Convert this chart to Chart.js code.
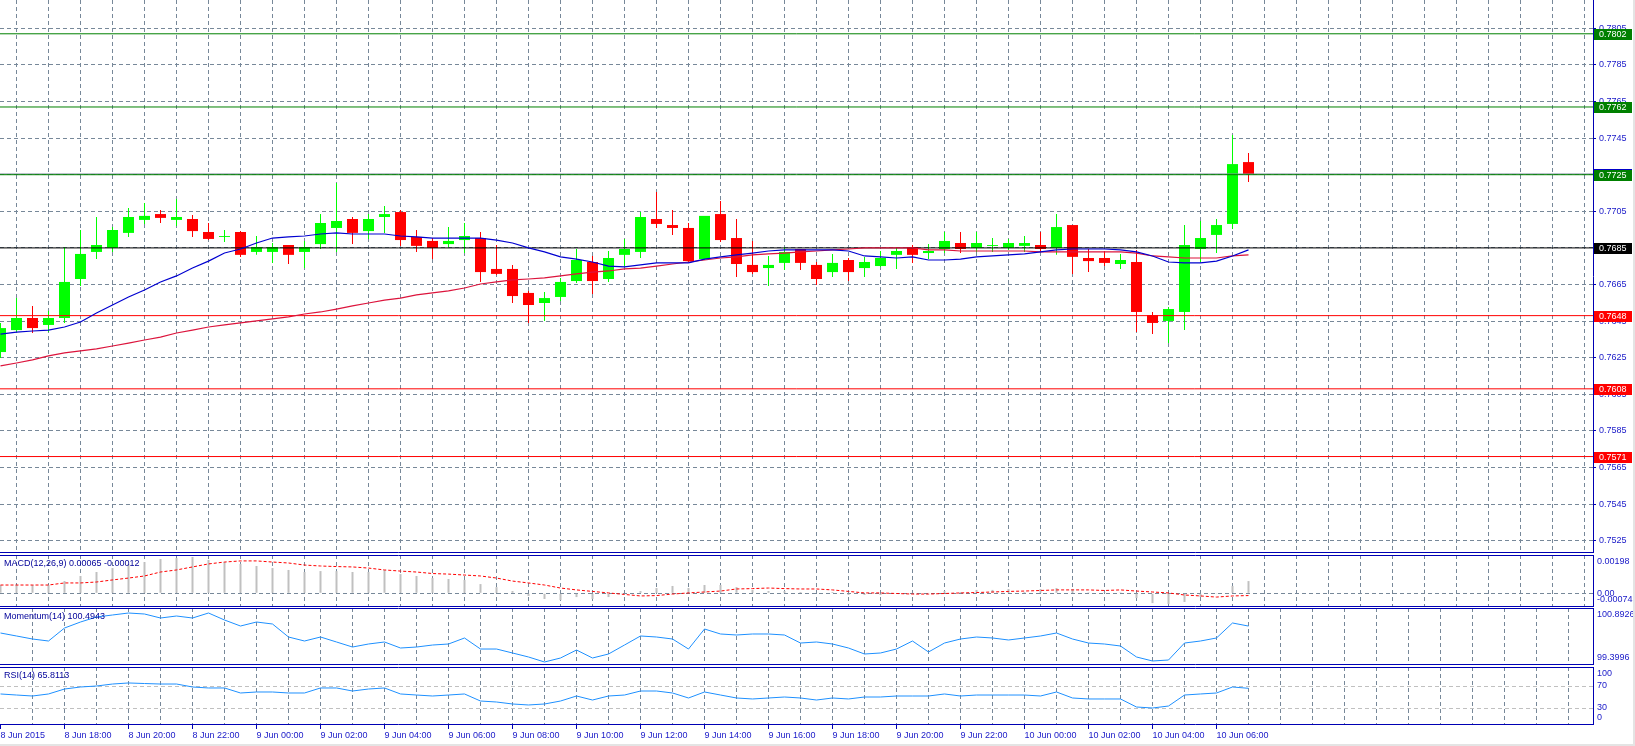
<!DOCTYPE html>
<html><head><meta charset="utf-8">
<script src="https://cdn.jsdelivr.net/npm/chart.js@4.4.1/dist/chart.umd.min.js"></script>
<style>
html,body{margin:0;padding:0;background:#fff;width:1635px;height:746px;overflow:hidden;}
canvas{position:absolute;left:0;}
#edgeR{position:absolute;left:1633px;top:0;width:2px;height:746px;background:#e4e4e4;}
#edgeB{position:absolute;left:0;top:744px;width:1635px;height:2px;background:#e4e4e4;}
</style></head><body>
<canvas id="cMain" width="1635" height="553" style="top:0px"></canvas>
<canvas id="cMacd" width="1635" height="52" style="top:555px"></canvas>
<canvas id="cMom" width="1635" height="57" style="top:608px"></canvas>
<canvas id="cRsi" width="1635" height="79" style="top:667px"></canvas>
<div id="edgeR"></div><div id="edgeB"></div>
<script>
// ---------------- DATA (AUDUSD M30, 8 Jun 16:00 -> 10 Jun 07:00) ----------------
const timeTickLabels = ["8 Jun 2015","8 Jun 18:00","8 Jun 20:00","8 Jun 22:00","9 Jun 00:00","9 Jun 02:00","9 Jun 04:00","9 Jun 06:00","9 Jun 08:00","9 Jun 10:00","9 Jun 12:00","9 Jun 14:00","9 Jun 16:00","9 Jun 18:00","9 Jun 20:00","9 Jun 22:00","10 Jun 00:00","10 Jun 02:00","10 Jun 04:00","10 Jun 06:00"];
const barsPerTimeLabel = 4;

const open = [0.76281,0.76401,0.76467,0.76429,0.76467,0.76680,0.76828,0.76850,0.76932,0.77003,0.77035,0.77003,0.77008,0.76937,0.76910,0.76937,0.76828,0.76828,0.76866,0.76828,0.76871,0.76959,0.77008,0.76942,0.77019,0.77046,0.76910,0.76888,0.76871,0.76893,0.76904,0.76735,0.76735,0.76604,0.76549,0.76582,0.76669,0.76773,0.76680,0.76812,0.76828,0.77008,0.76975,0.76959,0.76789,0.77035,0.76904,0.76757,0.76740,0.76768,0.76844,0.76757,0.76718,0.76784,0.76740,0.76751,0.76812,0.76855,0.76822,0.76844,0.76877,0.76850,0.76861,0.76850,0.76861,0.76866,0.76850,0.76975,0.76795,0.76795,0.76762,0.76773,0.76483,0.76451,0.76500,0.76844,0.76921,0.76981,0.77319];
const high = [0.76440,0.76576,0.76533,0.76505,0.76855,0.76948,0.77019,0.76964,0.77068,0.77096,0.77057,0.77117,0.77030,0.76986,0.76948,0.76942,0.76915,0.76877,0.76866,0.76888,0.77035,0.77205,0.77019,0.77035,0.77079,0.77057,0.76948,0.76904,0.76964,0.76986,0.76937,0.76866,0.76757,0.76615,0.76609,0.76686,0.76844,0.76806,0.76833,0.76899,0.77046,0.77155,0.77057,0.76986,0.77025,0.77106,0.77008,0.76888,0.76806,0.76855,0.76844,0.76773,0.76817,0.76795,0.76801,0.76833,0.76850,0.76866,0.76871,0.76937,0.76937,0.76937,0.76904,0.76899,0.76915,0.76937,0.77035,0.76975,0.76844,0.76833,0.76817,0.76839,0.76500,0.76527,0.76975,0.76997,0.77008,0.77467,0.77369];
const low = [0.76248,0.76390,0.76385,0.76390,0.76440,0.76642,0.76789,0.76828,0.76910,0.76981,0.76986,0.76970,0.76910,0.76893,0.76882,0.76801,0.76812,0.76768,0.76762,0.76740,0.76844,0.76828,0.76871,0.76899,0.76932,0.76861,0.76828,0.76789,0.76855,0.76822,0.76664,0.76702,0.76549,0.76440,0.76451,0.76560,0.76658,0.76598,0.76664,0.76751,0.76795,0.76959,0.76921,0.76773,0.76784,0.76882,0.76691,0.76708,0.76642,0.76729,0.76729,0.76648,0.76691,0.76669,0.76691,0.76746,0.76735,0.76768,0.76789,0.76822,0.76822,0.76828,0.76828,0.76839,0.76828,0.76828,0.76812,0.76708,0.76718,0.76751,0.76735,0.76390,0.76379,0.76330,0.76401,0.76773,0.76822,0.76953,0.77210];
const close = [0.76412,0.76467,0.76412,0.76467,0.76664,0.76817,0.76866,0.76948,0.77019,0.77025,0.77014,0.77019,0.76942,0.76899,0.76915,0.76812,0.76855,0.76855,0.76812,0.76855,0.76986,0.76997,0.76932,0.77008,0.77035,0.76893,0.76861,0.76850,0.76888,0.76915,0.76718,0.76708,0.76587,0.76538,0.76576,0.76664,0.76784,0.76669,0.76795,0.76844,0.77019,0.76981,0.76959,0.76778,0.77025,0.76893,0.76762,0.76718,0.76757,0.76828,0.76768,0.76680,0.76768,0.76718,0.76773,0.76795,0.76833,0.76812,0.76833,0.76888,0.76844,0.76877,0.76866,0.76877,0.76877,0.76844,0.76964,0.76801,0.76778,0.76768,0.76784,0.76500,0.76440,0.76516,0.76866,0.76904,0.76975,0.77308,0.77254];

const maFast = [0.76379,0.76390,0.76396,0.76401,0.76418,0.76445,0.76494,0.76538,0.76582,0.76620,0.76664,0.76697,0.76740,0.76778,0.76822,0.76844,0.76877,0.76904,0.76910,0.76915,0.76926,0.76932,0.76926,0.76926,0.76926,0.76915,0.76910,0.76904,0.76904,0.76904,0.76904,0.76893,0.76877,0.76850,0.76828,0.76801,0.76789,0.76773,0.76751,0.76746,0.76757,0.76768,0.76768,0.76768,0.76789,0.76801,0.76812,0.76822,0.76833,0.76839,0.76839,0.76839,0.76839,0.76833,0.76806,0.76801,0.76795,0.76801,0.76784,0.76784,0.76789,0.76801,0.76806,0.76812,0.76817,0.76828,0.76839,0.76844,0.76844,0.76844,0.76839,0.76828,0.76806,0.76773,0.76768,0.76768,0.76778,0.76806,0.76839];
const maSlow = [0.76205,0.76221,0.76238,0.76260,0.76276,0.76287,0.76298,0.76314,0.76330,0.76347,0.76363,0.76385,0.76401,0.76418,0.76429,0.76440,0.76451,0.76462,0.76473,0.76489,0.76500,0.76516,0.76533,0.76549,0.76565,0.76576,0.76593,0.76604,0.76615,0.76631,0.76653,0.76664,0.76675,0.76680,0.76686,0.76697,0.76708,0.76718,0.76724,0.76735,0.76740,0.76751,0.76762,0.76773,0.76784,0.76795,0.76801,0.76812,0.76817,0.76822,0.76828,0.76833,0.76839,0.76844,0.76850,0.76850,0.76850,0.76850,0.76839,0.76839,0.76833,0.76833,0.76833,0.76833,0.76833,0.76828,0.76828,0.76828,0.76828,0.76828,0.76828,0.76822,0.76806,0.76801,0.76795,0.76795,0.76795,0.76806,0.76812];

const resistanceLevels = [0.7802, 0.7762, 0.7725];
const pivotLevels = [0.7685];
const supportLevels = [0.7648, 0.7608, 0.7571];
const priceTicks = [0.7525,0.7545,0.7565,0.7585,0.7605,0.7625,0.7645,0.7665,0.7685,0.7705,0.7725,0.7745,0.7765,0.7785,0.7805];

const macdMain = [0.00044,0.00044,0.00044,0.00044,0.00065,0.00092,0.00113,0.00134,0.00156,0.00166,0.00182,0.00187,0.00193,0.00177,0.00166,0.00156,0.00145,0.00134,0.00124,0.00113,0.00118,0.00118,0.00113,0.00113,0.00124,0.00102,0.00092,0.00081,0.00076,0.00071,0.00049,0.00033,0.00012,-0.00014,-0.00030,-0.00036,-0.00020,-0.00030,-0.00020,-0.00003,0.00012,0.00028,0.00039,0.00028,0.00044,0.00044,0.00033,0.00018,0.00012,0.00012,0.00007,0.00002,0.00007,-0.00009,-0.00009,-0.00009,-0.00001,0.00001,0.00003,0.00012,0.00007,0.00018,0.00018,0.00023,0.00007,0.00023,0.00028,0.00023,0.00005,0.00005,0.00005,-0.00025,-0.00052,-0.00057,-0.00046,-0.00020,-0.00004,0.00039,0.00065];
const macdSignal = [0.00044,0.00044,0.00044,0.00044,0.00055,0.00055,0.00060,0.00071,0.00081,0.00092,0.00113,0.00124,0.00140,0.00156,0.00166,0.00172,0.00172,0.00166,0.00161,0.00150,0.00145,0.00142,0.00140,0.00134,0.00124,0.00118,0.00113,0.00105,0.00102,0.00097,0.00092,0.00081,0.00065,0.00055,0.00044,0.00028,0.00018,0.00010,0.00002,-0.00006,-0.00014,-0.00012,-0.00004,0.00002,0.00007,0.00012,0.00023,0.00025,0.00028,0.00025,0.00023,0.00023,0.00018,0.00010,0.00002,0.00002,-0.00001,-0.00004,-0.00004,-0.00001,0.00002,0.00004,0.00007,0.00010,0.00012,0.00015,0.00018,0.00018,0.00018,0.00015,0.00018,0.00012,0.00007,0.00002,-0.00009,-0.00014,-0.00020,-0.00014,-0.00012];
const macdScaleLabels = [0.00198, 0.00, -0.00074];

const momentum = [100.283,100.192,100.100,100.039,100.435,100.618,100.771,100.832,100.8926,100.862,100.740,100.801,100.740,100.8926,100.679,100.496,100.618,100.557,100.161,100.039,100.161,100.009,99.856,99.948,100.009,99.826,99.856,99.917,99.948,100.131,99.795,99.795,99.674,99.552,99.3996,99.521,99.765,99.521,99.643,99.917,100.192,100.161,100.100,99.795,100.405,100.253,100.222,100.253,100.253,100.222,99.978,100.009,99.948,99.826,99.643,99.674,99.795,100.039,99.704,99.978,100.100,100.161,100.131,100.070,100.131,100.192,100.283,100.100,99.978,99.948,99.887,99.552,99.430,99.460,99.978,100.039,100.131,100.588,100.4943];
const momentumScaleLabels = [100.8926, 99.3996];

const rsi = [55.5,53.6,51.8,55.5,64.5,68.2,70.0,73.6,75.5,74.5,73.6,73.6,68.2,66.4,66.4,57.3,59.1,59.1,57.3,57.3,66.4,66.4,60.9,64.5,66.4,55.5,53.6,51.8,53.6,55.5,42.7,40.9,37.3,35.5,37.3,42.7,51.8,44.5,51.8,53.6,60.9,60.9,57.3,48.2,59.1,53.6,48.2,46.4,48.2,50.0,48.2,44.5,48.2,46.4,50.0,50.0,51.8,51.8,51.8,55.5,51.8,53.6,53.6,53.6,53.6,51.8,59.1,48.2,46.4,46.4,46.4,31.8,30.0,33.6,53.6,55.5,57.3,68.2,65.8113];
const rsiScaleLabels = [100, 70, 30, 0];
const rsiLevels = [30, 70];

// ---------------- STYLE ----------------
const UP = '#00ff00', DOWN = '#ff0000';
const FRAME = '#0000b4', TXT = '#1818c8', TITLE = '#000099', GRID = '#778899';
const FONT = '"Liberation Sans", Arial, sans-serif';
const X_MIN = -0.03125, X_MAX = X_MIN + 1593 / 16;

const idx = close.map((_, i) => i);
const candleColor = idx.map(i => close[i] >= open[i] ? UP : DOWN);
const gridIdx = [];
for (let v = 0; v <= 98; v += 2) gridIdx.push(v);

function xAxis(withLabels) {
  return {
    type: 'linear', min: X_MIN, max: X_MAX, offset: false,
    afterBuildTicks: s => { s.ticks = gridIdx.map(v => ({ value: v })); },
    ticks: {
      display: withLabels, autoSkip: false, maxRotation: 0, minRotation: 0, align: 'start', padding: 1,
      color: TXT, font: { family: FONT, size: 9 },
      callback: v => (v % barsPerTimeLabel === 0 && timeTickLabels[v / barsPerTimeLabel]) || ''
    },
    grid: {
      color: c => (c.tick && c.tick.value === 0) ? 'rgba(0,0,0,0)' : GRID,
      lineWidth: 1, drawTicks: withLabels, tickLength: 4, tickBorderDash: [],
      tickColor: c => (c.tick && c.tick.value % barsPerTimeLabel === 0 && c.tick.value / barsPerTimeLabel < timeTickLabels.length) ? FRAME : 'rgba(0,0,0,0)'
    },
    border: { display: false, dash: [4, 3] },
    afterFit: s => { s.height = withLabels ? 21 : 0; s.paddingLeft = 0; s.paddingRight = 0; }
  };
}
function yAxis(min, max, tickVals, gridColor, showLabels) {
  return {
    type: 'linear', position: 'right', min, max,
    afterBuildTicks: s => { s.ticks = tickVals.map(v => ({ value: v })); },
    ticks: { display: showLabels, autoSkip: false, padding: 3, color: TXT, font: { family: FONT, size: 9 },
      callback: v => Number(v).toFixed(4) },
    grid: { color: gridColor, lineWidth: 1, drawTicks: showLabels, tickLength: 3, tickColor: FRAME, tickBorderDash: [] },
    border: { display: false, dash: [4, 3] },
    afterFit: s => { s.width = 42; s.paddingTop = 0; s.paddingBottom = 0; }
  };
}

const framePlugin = {
  id: 'frame',
  afterDraw(chart, args, opts) {
    const { ctx, chartArea: a } = chart;
    ctx.save();
    ctx.strokeStyle = FRAME; ctx.lineWidth = 1; ctx.setLineDash([]);
    ctx.beginPath();
    if (opts.top) { ctx.moveTo(a.left, a.top + 0.5); ctx.lineTo(a.right + 1, a.top + 0.5); }
    ctx.moveTo(a.left, a.bottom - 0.5); ctx.lineTo(a.right + 1, a.bottom - 0.5);
    ctx.moveTo(a.right + 0.5, a.top); ctx.lineTo(a.right + 0.5, a.bottom);
    ctx.stroke();
    ctx.restore();
  }
};
const panelTextPlugin = {
  id: 'panelText',
  afterDraw(chart, args, opts) {
    const { ctx, chartArea: a } = chart;
    const ys = chart.scales.y;
    ctx.save();
    ctx.font = '9px ' + FONT; ctx.textBaseline = 'middle'; ctx.textAlign = 'left';
    if (opts.title) { ctx.fillStyle = TITLE; ctx.fillText(opts.title, a.left + 4, a.top + 9); }
    (opts.labels || []).forEach(l => {
      let y = ys.getPixelForValue(l.v);
      y = Math.min(Math.max(y, a.top + 7), a.bottom - 7);
      ctx.fillStyle = TXT;
      ctx.fillText(l.t, a.right + 4, y);
    });
    ctx.restore();
  }
};
const levelTagPlugin = {
  id: 'levelTags',
  afterDraw(chart, args, opts) {
    const { ctx, chartArea: a } = chart;
    const ys = chart.scales.y;
    ctx.save();
    ctx.font = '9px ' + FONT; ctx.textBaseline = 'middle'; ctx.textAlign = 'left';
    opts.tags.forEach(t => {
      const y = Math.round(ys.getPixelForValue(t.v));
      ctx.fillStyle = t.c;
      ctx.fillRect(a.right + 1, y - 5, 38, 11);
      ctx.fillStyle = '#ffffff';
      ctx.fillText(t.v.toFixed(4), a.right + 6, y + 0.5);
    });
    ctx.restore();
  }
};

const baseOptions = (scales, plugins) => ({
  responsive: false, animation: false, devicePixelRatio: 1, events: [],
  layout: { padding: 0 },
  plugins: Object.assign({ legend: { display: false }, tooltip: { enabled: false } }, plugins),
  scales
});
const hLine = (v, color, order) => ({
  type: 'line', data: [{ x: X_MIN, y: v }, { x: X_MAX, y: v }], borderColor: color, borderWidth: 1,
  pointRadius: 0, order
});

// ---------------- MAIN PRICE CHART ----------------
const Y_MAIN_MAX = 0.782046, Y_MAIN_MIN = 0.751830;
const lastClose = close[close.length - 1];
const levelDatasets = [
  ...resistanceLevels.map(v => hLine(v, '#008000', 2)),
  ...pivotLevels.map(v => hLine(v, '#000000', 2)),
  ...supportLevels.map(v => hLine(v, '#ff0000', 2)),
  hLine(lastClose, '#8090a0', 2)
];
new Chart(document.getElementById('cMain'), {
  type: 'bar',
  data: {
    datasets: [
      { type: 'bar', data: idx.map(i => ({ x: i, y: [low[i], high[i]] })), backgroundColor: candleColor,
        barThickness: 1, grouped: false, inflateAmount: 0, borderWidth: 0, order: 4 },
      { type: 'bar', data: idx.map(i => ({ x: i, y: [open[i], close[i]] })), backgroundColor: candleColor,
        barThickness: 11, grouped: false, inflateAmount: 0, borderWidth: 0, order: 3 },
      ...levelDatasets,
      { type: 'line', data: idx.map(i => ({ x: i, y: maSlow[i] })), borderColor: '#dc143c', borderWidth: 1.2, pointRadius: 0, tension: 0, order: 1 },
      { type: 'line', data: idx.map(i => ({ x: i, y: maFast[i] })), borderColor: '#0000d0', borderWidth: 1.2, pointRadius: 0, tension: 0, order: 0 }
    ]
  },
  options: baseOptions(
    { x: xAxis(false), y: yAxis(Y_MAIN_MIN, Y_MAIN_MAX, priceTicks, GRID, true) },
    { frame: { top: false },
      levelTags: { tags: [
        { v: lastClose, c: '#0000c8' },
        ...resistanceLevels.map(v => ({ v, c: '#008000' })),
        ...pivotLevels.map(v => ({ v, c: '#000000' })),
        ...supportLevels.map(v => ({ v, c: '#ff0000' }))
      ] } }
  ),
  plugins: [framePlugin, levelTagPlugin]
});

// ---------------- MACD ----------------
const fmt5 = v => v.toFixed(5);
new Chart(document.getElementById('cMacd'), {
  type: 'bar',
  data: { datasets: [
    { type: 'bar', data: idx.map(i => ({ x: i, y: macdMain[i] })), backgroundColor: '#c0c0c0',
      barThickness: 2, grouped: false, inflateAmount: 0, borderWidth: 0, order: 2 },
    { type: 'line', data: idx.map(i => ({ x: i, y: macdSignal[i] })), borderColor: '#ff0000', borderWidth: 1,
      borderDash: [3, 2], pointRadius: 0, tension: 0, order: 0 }
  ] },
  options: baseOptions(
    { x: xAxis(false), y: yAxis(-0.000727, 0.002034, [0], GRID, false) },
    { frame: { top: true },
      panelText: { title: 'MACD(12,26,9) ' + fmt5(macdMain[macdMain.length - 1]) + ' ' + fmt5(macdSignal[macdSignal.length - 1]),
        labels: macdScaleLabels.map(v => ({ v, t: v === 0 ? '0.00' : fmt5(v) })) } }
  ),
  plugins: [framePlugin, panelTextPlugin]
});

// ---------------- MOMENTUM ----------------
new Chart(document.getElementById('cMom'), {
  type: 'line',
  data: { datasets: [
    { data: idx.map(i => ({ x: i, y: momentum[i] })), borderColor: '#1e90ff', borderWidth: 1, pointRadius: 0, tension: 0 }
  ] },
  options: baseOptions(
    { x: xAxis(false), y: yAxis(99.3081, 101.045, [], 'rgba(0,0,0,0)', false) },
    { frame: { top: true },
      panelText: { title: 'Momentum(14) ' + momentum[momentum.length - 1].toFixed(4),
        labels: momentumScaleLabels.map(v => ({ v, t: v.toFixed(4) })) } }
  ),
  plugins: [framePlugin, panelTextPlugin]
});

// ---------------- RSI ----------------
new Chart(document.getElementById('cRsi'), {
  type: 'line',
  data: { datasets: [
    { data: idx.map(i => ({ x: i, y: rsi[i] })), borderColor: '#1e90ff', borderWidth: 1, pointRadius: 0, tension: 0 }
  ] },
  options: baseOptions(
    { x: xAxis(true), y: yAxis(-0.91, 104.55, rsiLevels, '#c0c0c0', false) },
    { frame: { top: true },
      panelText: { title: 'RSI(14) ' + rsi[rsi.length - 1].toFixed(4),
        labels: rsiScaleLabels.map(v => ({ v, t: String(v) })) } }
  ),
  plugins: [framePlugin, panelTextPlugin]
});
</script>
</body></html>
